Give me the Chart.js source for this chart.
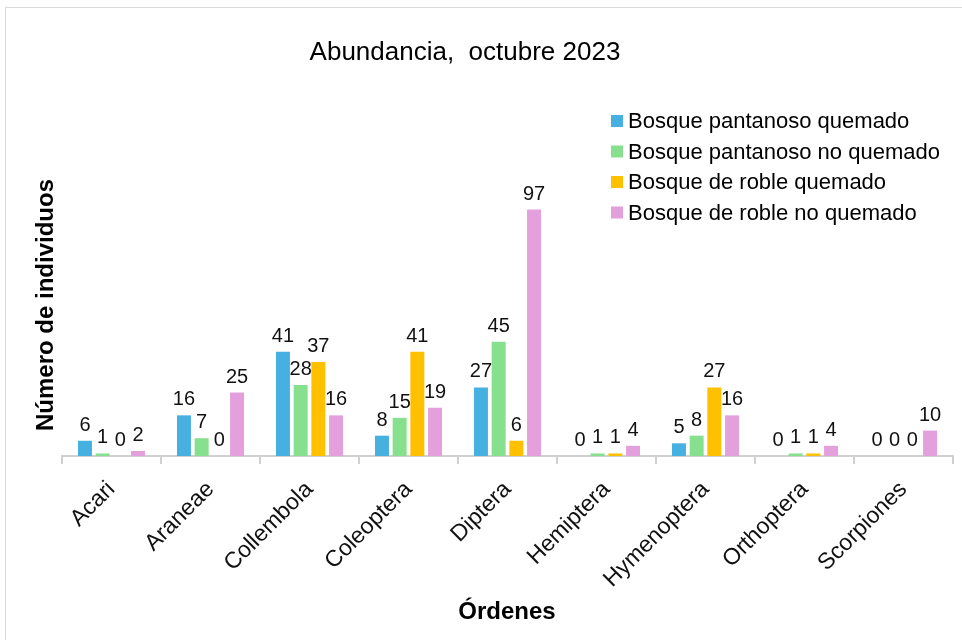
<!DOCTYPE html>
<html>
<head>
<meta charset="utf-8">
<script src="https://cdn.jsdelivr.net/npm/chart.js@4.4.0/dist/chart.umd.min.js"></script>
<style>
  html, body { margin: 0; padding: 0; background: #fff; }
  #wrap { width: 962px; height: 640px; position: relative; }
</style>
</head>
<body>
<div id="wrap"><canvas id="chart"></canvas></div>
<script>
// Órdenes y conteos por tipo de bosque
const ordenes = ['Acari', 'Araneae', 'Collembola', 'Coleoptera', 'Diptera', 'Hemiptera', 'Hymenoptera', 'Orthoptera', 'Scorpiones'];
const pantanosoQuemado = [6, 16, 41, 8, 27, 0, 5, 0, 0];
const pantanosoNoQuemado = [1, 7, 28, 15, 45, 1, 8, 1, 0];
const robleQuemado = [0, 0, 37, 41, 6, 1, 27, 1, 0];
const robleNoQuemado = [2, 25, 16, 19, 97, 4, 16, 4, 10];

const FONT = '"Liberation Sans", Arial, sans-serif';
const colores = ['#46b0e0', '#86e08d', '#ffc000', '#e4a0dd'];

// marco, títulos y leyenda dibujados a mano
const decoraciones = {
    id: 'decoraciones',
    beforeDraw(chart) {
        const ctx = chart.ctx;
        ctx.save();
        ctx.fillStyle = '#fff';
        ctx.fillRect(0, 0, chart.width, chart.height);
        ctx.strokeStyle = '#d9d9d9';
        ctx.lineWidth = 1;
        ctx.strokeRect(5.5, 7.5, 980, 660);
        ctx.restore();
    },
    afterDraw(chart) {
        const ctx = chart.ctx;
        ctx.save();
        ctx.fillStyle = '#000';
        ctx.textAlign = 'center';
        ctx.textBaseline = 'alphabetic';
        ctx.font = '26px ' + FONT;
        ctx.fillText('Abundancia,  octubre 2023', 465, 60);

        ctx.font = 'bold 24px ' + FONT;
        ctx.fillText('Órdenes', 507, 619);

        ctx.save();
        ctx.translate(53, 305);
        ctx.rotate(-Math.PI / 2);
        ctx.fillText('Número de individuos', 0, 0);
        ctx.restore();

        // leyenda
        ctx.textAlign = 'left';
        ctx.font = '22px ' + FONT;
        chart.data.datasets.forEach((ds, i) => {
            const y = 121 + i * 30.5;
            ctx.fillStyle = ds.backgroundColor;
            ctx.fillRect(611, y - 6, 12, 12);
            ctx.fillStyle = '#000';
            ctx.textBaseline = 'middle';
            ctx.fillText(ds.label, 628, y + 1);
        });
        ctx.restore();
    },
    afterDatasetsDraw(chart) {
        // valores sobre cada barra
        const ctx = chart.ctx;
        ctx.save();
        ctx.font = '20px ' + FONT;
        ctx.fillStyle = '#111';
        ctx.textAlign = 'center';
        ctx.textBaseline = 'alphabetic';
        chart.data.datasets.forEach((ds, i) => {
            chart.getDatasetMeta(i).data.forEach((bar, j) => {
                ctx.fillText(String(ds.data[j]), bar.x, bar.y - 10);
            });
        });
        ctx.restore();
    }
};

const series = [
    ['Bosque pantanoso quemado', pantanosoQuemado],
    ['Bosque pantanoso no quemado', pantanosoNoQuemado],
    ['Bosque de roble quemado', robleQuemado],
    ['Bosque de roble no quemado', robleNoQuemado]
];

new Chart(document.getElementById('chart'), {
    type: 'bar',
    data: {
        labels: ordenes,
        datasets: series.map(([label, data], i) => ({
            label: label,
            data: data,
            backgroundColor: colores[i],
            borderWidth: 0,
            categoryPercentage: 0.715,
            barPercentage: 0.79
        }))
    },
    options: {
        responsive: true,
        maintainAspectRatio: false,
        animation: false,
        events: [],
        layout: { padding: { top: 202, right: 9, left: 0, bottom: 0 } },
        plugins: {
            legend: { display: false },
            title: { display: false },
            tooltip: { enabled: false }
        },
        scales: {
            x: {
                afterFit: (scale) => { scale.height = 184; },
                border: { display: true, color: '#d0d0d0', width: 2 },
                grid: {
                    offset: true,
                    drawOnChartArea: false,
                    drawTicks: true,
                    tickLength: 8,
                    color: '#d0d0d0',
                    lineWidth: 2
                },
                ticks: {
                    minRotation: 45,
                    maxRotation: 45,
                    padding: 12,
                    color: '#111',
                    font: { family: FONT, size: 23 }
                }
            },
            y: {
                min: 0,
                max: 100,
                afterFit: (scale) => { scale.width = 62; },
                border: { display: false },
                grid: { display: false },
                ticks: { display: false }
            }
        }
    },
    plugins: [decoraciones]
});
</script>
</body>
</html>
